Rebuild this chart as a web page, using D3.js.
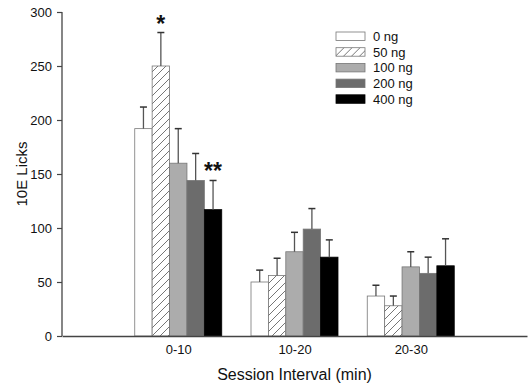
<!DOCTYPE html>
<html>
<head>
<meta charset="utf-8">
<script src="https://cdn.jsdelivr.net/npm/d3@7"></script>
<style>
  body { margin: 0; background: #fff; }
  text { font-family: Arial, "Liberation Sans", sans-serif; fill: #111; }
</style>
</head>
<body>
<div id="chart"></div>
<script>
// chart data
var intervals = ["0-10", "10-20", "20-30"];
var doses = ["0 ng", "50 ng", "100 ng", "200 ng", "400 ng"];
var doseFills = ["#ffffff", "url(#hatch)", "#acacac", "#6c6c6c", "#000000"];
var means0to10 = [192, 250, 160, 144, 117];
var means10to20 = [50, 56, 78, 99, 73];
var means20to30 = [37, 28, 64, 58, 65];
var sem0to10 = [20, 31, 32, 25, 27];
var sem10to20 = [11, 16, 18, 19, 16];
var sem20to30 = [10, 9, 14, 15, 25];
var yTicks = [0, 50, 100, 150, 200, 250, 300];
var stars = [{ group: 0, dose: 1, text: "*" }, { group: 0, dose: 4, text: "**" }];

var means = [means0to10, means10to20, means20to30];
var sems = [sem0to10, sem10to20, sem20to30];

var width = 530, height = 388;
var margin = { top: 12, left: 62, right: 3, bottom: 52 };

var svg = d3.select("#chart").append("svg")
    .attr("width", width)
    .attr("height", height);

// hatch for the 50 ng bars
var pattern = svg.append("defs").append("pattern")
    .attr("id", "hatch")
    .attr("patternUnits", "userSpaceOnUse")
    .attr("width", 8)
    .attr("height", 8);
pattern.append("rect").attr("width", 8).attr("height", 8).style("fill", "#fff");
pattern.append("path")
    .attr("d", "M-2,2 L2,-2 M0,8 L8,0 M6,10 L10,6")
    .style("stroke", "#666")
    .style("stroke-width", 0.9);

var x = d3.scaleLinear()
    .domain([0, 4])
    .range([margin.left, width - margin.right]);

var y = d3.scaleLinear()
    .domain([0, 300])
    .range([height - margin.bottom, margin.top]);

var barW = 17.4;
var inner = d3.scaleBand()
    .domain(d3.range(doses.length))
    .range([-barW * 2.5, barW * 2.5]);

var rows = [];
means.forEach(function(vals, gi) {
  vals.forEach(function(v, di) {
    rows.push({ g: gi, d: di, v: v, e: sems[gi][di] });
  });
});

// bars
svg.selectAll(".bar")
  .data(rows)
  .enter().append("rect")
  .attr("class", "bar")
  .attr("x", function(d) { return x(d.g + 1) + inner(d.d); })
  .attr("y", function(d) { return y(d.v); })
  .attr("width", inner.bandwidth())
  .attr("height", function(d) { return y(0) - y(d.v); })
  .style("fill", function(d) { return doseFills[d.d]; })
  .style("stroke", function(d) { return d.d === 4 ? "#000" : "#777"; })
  .style("stroke-width", 0.8);

// error bars (upper only)
var err = svg.selectAll(".err")
  .data(rows)
  .enter().append("g")
  .attr("class", "err")
  .attr("transform", function(d) {
    return "translate(" + (x(d.g + 1) + inner(d.d) + inner.bandwidth() / 2) + ",0)";
  });
err.append("line")
  .attr("y1", function(d) { return y(d.v); })
  .attr("y2", function(d) { return y(d.v + d.e); })
  .style("stroke", "#555")
  .style("stroke-width", 1.3);
err.append("line")
  .attr("x1", -3.5).attr("x2", 3.5)
  .attr("y1", function(d) { return y(d.v + d.e); })
  .attr("y2", function(d) { return y(d.v + d.e); })
  .style("stroke", "#333")
  .style("stroke-width", 1.5);

// significance marks
svg.selectAll(".star")
  .data(stars)
  .enter().append("text")
  .attr("class", "star")
  .attr("x", function(d) { return x(d.group + 1) + inner(d.dose) + inner.bandwidth() / 2; })
  .attr("y", function(d) { return y(means[d.group][d.dose] + sems[d.group][d.dose]) - 1; })
  .attr("text-anchor", "middle")
  .style("font-size", "23px")
  .style("font-weight", "bold")
  .text(function(d) { return d.text; });

// y axis
var yAxis = d3.axisLeft(y).tickValues(yTicks).tickSize(5).tickPadding(5);
var gy = svg.append("g")
  .attr("transform", "translate(" + margin.left + ",0)")
  .call(yAxis);
gy.select(".domain").attr("d", "M0," + y(300) + "V" + y(0)).style("stroke", "#444").style("stroke-width", 1.3);
gy.selectAll(".tick line").style("stroke", "#444").style("stroke-width", 1.2);
gy.selectAll(".tick text").style("font-size", "13px").style("font-family", "Arial, 'Liberation Sans', sans-serif").style("fill", "#111");

// x axis
var gx = svg.append("g")
  .attr("transform", "translate(0," + y(0) + ")")
  .call(d3.axisBottom(x).tickValues([1, 2, 3]).tickSize(0).tickPadding(9)
    .tickFormat(function(d) { return intervals[d - 1]; }));
gx.select(".domain").style("stroke", "#444").style("stroke-width", 1.3);
gx.selectAll(".tick text").style("font-size", "13px").style("font-family", "Arial, 'Liberation Sans', sans-serif").style("fill", "#111");

// axis titles
svg.append("text")
  .attr("transform", "translate(27," + ((y(0) + y(300)) / 2) + ") rotate(-90)")
  .attr("text-anchor", "middle")
  .style("font-size", "15px")
  .text("10E Licks");

svg.append("text")
  .attr("x", x(2))
  .attr("y", 380)
  .attr("text-anchor", "middle")
  .style("font-size", "16px")
  .text("Session Interval (min)");

// legend
var legend = svg.append("g")
  .attr("transform", "translate(336,32)")
  .selectAll("g")
  .data(doses)
  .enter().append("g")
  .attr("transform", function(d, i) { return "translate(0," + i * 15.7 + ")"; });
legend.append("rect")
  .attr("width", 29)
  .attr("height", 8.5)
  .style("fill", function(d, i) { return doseFills[i]; })
  .style("stroke", function(d, i) { return i === 4 ? "#000" : "#777"; })
  .style("stroke-width", 0.8);
legend.append("text")
  .attr("x", 37)
  .attr("y", 4.5)
  .attr("dy", "0.35em")
  .style("font-size", "13px")
  .text(function(d) { return d; });
</script>
</body>
</html>
